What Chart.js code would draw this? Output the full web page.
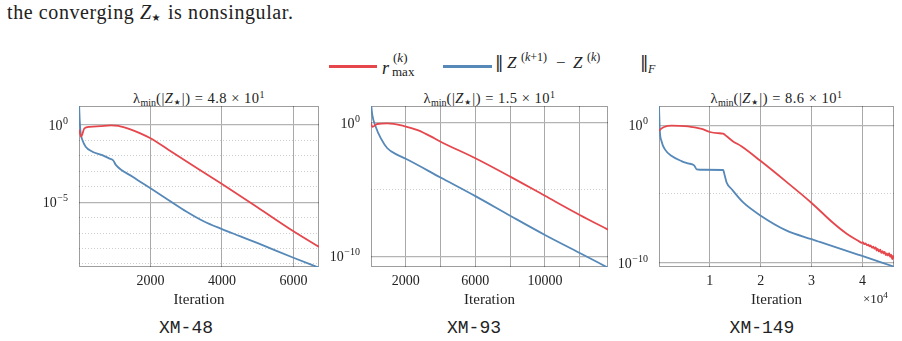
<!DOCTYPE html>
<html>
<head>
<meta charset="utf-8">
<script src="https://cdn.jsdelivr.net/npm/chart.js@4.4.0/dist/chart.umd.min.js"></script>
<style>
  body { margin: 0; width: 902px; height: 341px; background: #fff; position: relative; overflow: hidden;
         font-family: "Liberation Serif", serif; color: #222; }
  .abs { position: absolute; white-space: nowrap; }
  canvas { position: absolute; }
  .intro { left: 7px; top: 1px; font-size: 20px; line-height: 22px; letter-spacing: 0.6px; }
  .intro .star { font-size: 20px; vertical-align: -5px; margin-left: -2px; }
  .star { font-family: "DejaVu Sans", sans-serif; letter-spacing: 0; }
  .bars { font-family: "DejaVu Serif", serif; }
  .title { top: 87px; font-size: 14.5px; line-height: 16px; text-align: center; letter-spacing: 0.5px; }
  .title sub { font-size: 10px; vertical-align: -3px; letter-spacing: 0; }
  .title .star { font-size: 15px; vertical-align: -4px; margin-left: -1px; }
  .title sup { font-size: 10px; vertical-align: 5px; }
  .cap { top: 318px; font-family: "Liberation Mono", monospace; font-size: 18px; line-height: 20px; text-align: center; width: 120px; }
  .swatch { height: 3px; }
  .f18 { font-size: 18px; line-height: 18px; }
  .f17 { font-size: 17px; line-height: 17px; }
  .f13 { font-size: 13px; line-height: 13px; }
  .f12 { font-size: 12px; line-height: 12px; }
  .mult { font-size: 13px; }
  .mult sup { font-size: 9px; vertical-align: 5px; }
</style>
</head>
<body>
<div class="abs intro">the converging <i>Z</i><span class="star">⋆</span> is nonsingular.</div>

<div class="abs swatch" style="left:329px; top:65px; width:48px; background:#e5474d;"></div>
<div class="abs f18" style="left:382px; top:59px;"><i>r</i></div>
<div class="abs f13" style="left:393px; top:51px;">(<i>k</i>)</div>
<div class="abs f13" style="left:392px; top:65px;">max</div>

<div class="abs swatch" style="left:443px; top:65px; width:49px; background:#5688b8;"></div>
<div class="abs f17 bars" style="left:495px; top:54px;">‖</div>
<div class="abs f17" style="left:507px; top:54px;"><i>Z</i></div>
<div class="abs f12" style="left:521px; top:51px;">(<i>k</i>+1)</div>
<div class="abs f17" style="left:556px; top:54px;">−</div>
<div class="abs f17" style="left:573px; top:54px;"><i>Z</i></div>
<div class="abs f12" style="left:587px; top:51px;">(<i>k</i>)</div>
<div class="abs f17 bars" style="left:640px; top:54px;">‖</div>
<div class="abs f12" style="left:648px; top:63px;"><i>F</i></div>

<div class="abs title" style="left:79px; width:240px;">λ<sub>min</sub>(|<i>Z</i><span class="star">⋆</span>|) = 4.8 × 10<sup>1</sup></div>
<div class="abs title" style="left:371px; width:237px;">λ<sub>min</sub>(|<i>Z</i><span class="star">⋆</span>|) = 1.5 × 10<sup>1</sup></div>
<div class="abs title" style="left:659px; width:235px;">λ<sub>min</sub>(|<i>Z</i><span class="star">⋆</span>|) = 8.6 × 10<sup>1</sup></div>

<canvas id="c48" width="295" height="215" style="left:35px; top:100px;"></canvas>
<canvas id="c93" width="292" height="215" style="left:327px; top:100px;"></canvas>
<canvas id="c149" width="290" height="215" style="left:615px; top:100px;"></canvas>

<div class="abs mult" style="left:863px; top:290px;">×10<sup>4</sup></div>

<div class="abs cap" style="left:126px;">XM-48</div>
<div class="abs cap" style="left:414px;">XM-93</div>
<div class="abs cap" style="left:702px;">XM-149</div>

<script>
// XM-48
const xm48RmaxIter = [0, 60, 150, 300, 600, 900, 1100, 1400, 1700, 2000, 2500, 3000, 4000, 5000, 6000, 6714];
const xm48RmaxVal  = [0.5, 0.18, 0.6, 0.76, 0.85, 0.95, 0.89, 0.56, 0.3, 0.138, 0.025, 4.5e-3, 1.5e-4, 4.5e-6, 1.3e-7, 1.26e-8];
const xm48StepIter = [0, 20, 47, 95, 187, 374, 653, 840, 960, 1030, 1500, 2000, 2500, 3000, 3500, 4000, 4500, 5000, 6000, 6714];
const xm48StepVal  = [30, 2, 0.29, 0.107, 0.039, 0.0186, 0.0112, 6.9e-3, 5e-3, 2.6e-3, 4.5e-4, 7.9e-5, 1.4e-5, 2.5e-6, 5.6e-7, 1.8e-7, 6.3e-8, 2.2e-8, 2.5e-9, 5.6e-10];
const xm48XTicks = [2000, 4000, 6000];
const xm48YMajor = [1, 1e-5];
const xm48YMinor = [1e-1, 1e-2, 1e-3, 1e-4, 1e-6, 1e-7, 1e-8, 1e-9];

// XM-93
const xm93RmaxIter = [0, 77, 360, 940, 1900, 2680, 3640, 4000, 6000, 8000, 10000, 12000, 13624];
const xm93RmaxVal  = [0.9, 0.5, 0.8, 0.89, 0.56, 0.28, 0.069, 0.038, 2.2e-3, 9.3e-5, 3.4e-6, 1.26e-7, 1e-8];
const xm93StepIter = [0, 77, 270, 560, 940, 1520, 2000, 4000, 6000, 8000, 10000, 12000, 13624];
const xm93StepVal  = [30, 3.7, 0.5, 0.07, 0.0123, 3.9e-3, 2e-3, 7.9e-5, 3.2e-6, 1.1e-7, 4e-9, 1.8e-10, 1.4e-11];
const xm93XTicks = [2000, 4000, 6000, 8000, 10000, 12000];
const xm93XLabels = [2000, 6000, 10000];
const xm93YMajor = [1, 1e-10];
const xm93YMinor = [1e-5];

// XM-149
const xm149RmaxIter = [0, 400, 1000, 2500, 4000, 5700, 7000, 8400, 10000, 11500, 12600, 13300, 14500, 16200, 20000, 25000, 30000, 34200, 36900,
  39500, 39800, 40100, 40350, 40600, 40900, 41150, 41400, 41600, 41900, 42150, 42350, 42600, 42800, 43000, 43250, 43500, 43700, 43950,
  44150, 44350, 44600, 44800, 45000, 45250, 45450, 45650, 45850, 46000, 46200];
const xm149RmaxVal  = [0.4, 0.56, 0.76, 0.95, 0.93, 0.85, 0.71, 0.55, 0.33, 0.27, 0.25, 0.16, 0.071, 0.03, 2.5e-3, 7.9e-5, 2.2e-6, 7.9e-8, 1.26e-8,
  3.2e-9, 2.7e-9, 2.9e-9, 2.2e-9, 2.5e-9, 1.8e-9, 2.0e-9, 1.5e-9, 1.75e-9, 1.2e-9, 1.45e-9, 1.0e-9, 1.25e-9, 7.5e-10, 1.0e-9, 6.2e-10, 8.5e-10, 5.0e-10, 6.8e-10,
  4.5e-10, 6.0e-10, 3.4e-10, 4.6e-10, 3.2e-10, 4.8e-10, 2.6e-10, 3.8e-10, 1.7e-10, 3.0e-10, 1.9e-10];
const xm149StepIter = [0, 150, 500, 1200, 2500, 4400, 5700, 6900, 7400, 9000, 12600, 12950, 13300, 14300, 16500, 20000, 25000, 30000, 31600, 39500, 46200];
const xm149StepVal  = [30, 0.5, 0.07, 0.017, 5.8e-3, 2.5e-3, 1.7e-3, 1.23e-3, 6.3e-4, 5.8e-4, 5.6e-4, 2e-4, 6.8e-5, 2.2e-5, 2.5e-6, 2.6e-7, 2.2e-8, 5e-9, 3.2e-9, 3.4e-10, 5e-11];
const xm149XTicks = [10000, 20000, 30000, 40000];
const xm149YMajor = [1, 1e-10];
const xm149YMinor = [1e-5];

const RED = '#e5474d';
const BLUE = '#5688b8';
const SERIF = "'Liberation Serif', serif";

function pts(xs, ys) {
  return xs.map((x, i) => ({ x: x, y: ys[i] }));
}

function exponentOf(v) {
  return String(Math.round(Math.log10(v))).replace('-', '−');
}

// frame round the plot area
const boxPlugin = {
  id: 'box',
  beforeDatasetsDraw(chart) {
    const a = chart.chartArea, ctx = chart.ctx;
    ctx.save();
    ctx.strokeStyle = 'rgba(0,0,0,0.38)';
    ctx.lineWidth = 1;
    ctx.strokeRect(Math.round(a.left) + 0.5, Math.round(a.top) + 0.5,
      Math.round(a.right - a.left) - 1, Math.round(a.bottom - a.top) - 1);
    ctx.restore();
  }
};

// y labels as 10 with a raised exponent
const powTickPlugin = {
  id: 'powTicks',
  afterDraw(chart) {
    const s = chart.scales.y, ctx = chart.ctx;
    const right = chart.chartArea.left - 11;
    ctx.save();
    ctx.fillStyle = '#222';
    ctx.textBaseline = 'alphabetic';
    s.ticks.forEach(t => {
      const y = s.getPixelForValue(t.value);
      const e = exponentOf(t.value);
      ctx.font = '10px ' + SERIF;
      const ew = ctx.measureText(e).width;
      ctx.textAlign = 'left';
      ctx.fillText(e, right - ew, y - 1);
      ctx.font = '14px ' + SERIF;
      ctx.textAlign = 'right';
      ctx.fillText('10', right - ew - 0.5, y + 5);
    });
    ctx.restore();
  }
};

function makeChart(id, c) {
  new Chart(document.getElementById(id), {
    type: 'line',
    data: {
      datasets: [
        { label: 'rmax', data: pts(c.rIter, c.rVal), borderColor: RED, borderWidth: 1.8 },
        { label: 'step', data: pts(c.sIter, c.sVal), borderColor: BLUE, borderWidth: 1.8 }
      ]
    },
    options: {
      responsive: false,
      animation: false,
      layout: { padding: { top: 6, right: 11, left: 0, bottom: 0 } },
      plugins: { legend: { display: false }, tooltip: { enabled: false } },
      elements: {
        point: { radius: 0 },
        line: { cubicInterpolationMode: 'monotone', fill: false }
      },
      scales: {
        x: {
          type: 'linear', min: 0, max: c.xMax, bounds: 'data',
          afterBuildTicks: s => { s.ticks = c.xTicks.map(v => ({ value: v })); },
          afterFit: s => { s.height = 48; s.paddingLeft = 0; s.paddingRight = 0; },
          ticks: { callback: c.xLabel, font: { family: SERIF, size: 14 }, color: '#222', padding: 6, maxRotation: 0, autoSkip: false },
          grid: { color: '#a9a9a9', lineWidth: 1, drawTicks: false },
          border: { display: false },
          title: { display: true, text: 'Iteration', font: { family: SERIF, size: 15 }, color: '#222', padding: { top: 0, bottom: 6 } }
        },
        y: {
          type: 'logarithmic', min: c.yMin, max: c.yMax, bounds: 'data',
          afterBuildTicks: s => { s.ticks = c.yMajor.map(v => ({ value: v })); },
          afterFit: s => { s.width = 44; s.paddingTop = 0; s.paddingBottom = 0; },
          ticks: { display: false },
          grid: { color: '#b4b4b4', lineWidth: 1.3, drawTicks: false },
          border: { display: false }
        },
        yMinor: {
          type: 'logarithmic', position: 'left', min: c.yMin, max: c.yMax, bounds: 'data',
          afterBuildTicks: s => { s.ticks = c.yMinor.map(v => ({ value: v })); },
          afterFit: s => { s.width = 0; s.paddingTop = 0; s.paddingBottom = 0; },
          ticks: { display: false },
          grid: { color: '#cfcfcf', lineWidth: 1, drawTicks: false },
          border: { display: false, dash: [1, 2] }
        }
      }
    },
    plugins: [boxPlugin, powTickPlugin]
  });
}

makeChart('c48', {
  rIter: xm48RmaxIter, rVal: xm48RmaxVal, sIter: xm48StepIter, sVal: xm48StepVal,
  xMax: 6714, xTicks: xm48XTicks, xLabel: v => String(v),
  yMin: 6.3e-10, yMax: 17, yMajor: xm48YMajor, yMinor: xm48YMinor
});

makeChart('c93', {
  rIter: xm93RmaxIter, rVal: xm93RmaxVal, sIter: xm93StepIter, sVal: xm93StepVal,
  xMax: 13624, xTicks: xm93XTicks, xLabel: v => (xm93XLabels.includes(v) ? String(v) : ''),
  yMin: 1.6e-11, yMax: 17.8, yMajor: xm93YMajor, yMinor: xm93YMinor
});

makeChart('c149', {
  rIter: xm149RmaxIter, rVal: xm149RmaxVal, sIter: xm149StepIter, sVal: xm149StepVal,
  xMax: 46200, xTicks: xm149XTicks, xLabel: v => String(v / 10000),
  yMin: 4.7e-11, yMax: 26, yMajor: xm149YMajor, yMinor: xm149YMinor
});
</script>
</body>
</html>
